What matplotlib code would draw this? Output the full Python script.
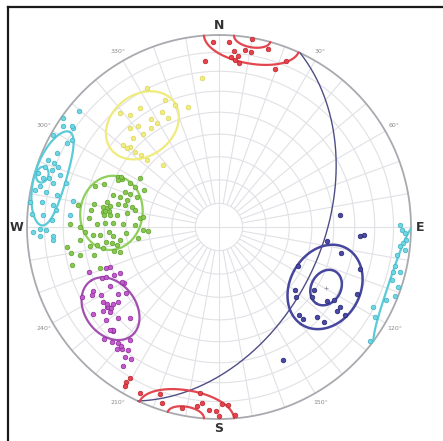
import numpy as np
import matplotlib
matplotlib.use("Agg")
import matplotlib.pyplot as plt
from matplotlib.lines import Line2D

# poles to joints, lower hemisphere (trend, plunge in degrees)
red_trend = [355, 358, 3, 5, 4, 6.5, 5.5, 7, 8.5, 10.5, 10, 15.5, 22, 19.5,
             205.5, 199.5, 198, 186.5, 187, 181, 183, 179, 180, 175, 191.5, 177, 185.5,
             211, 210.5, 210.5]
red_plunge = [14.5, 4, 4, 9, 12, 11.5, 13.5, 15, 7.5, 8, 0.5, 4, 7.5, 13.5,
              4.5, 8.5, 4, 14, 7, 4.5, 5, 8.5, 1.5, 2, 4, 8, 9,
              6.5, 9.5, 4.5]

yellow_trend = [345.5, 340, 333.5, 335, 326.5, 321.5, 328, 329, 321.5, 318, 325.5, 321,
                316, 310.5, 312, 312, 313, 319, 313, 337, 332.5, 353.5, 318, 310.5]
yellow_plunge = [35.5, 33, 33.5, 37.5, 26.5, 26.5, 34, 37, 33, 31.5, 37.5, 37.5,
                 36, 34.5, 37.5, 41, 44, 22.5, 47.5, 29, 19.5, 23, 54, 37]

green_trend = [296.5, 296.5, 290.5, 288.5, 296, 295.5, 301.5, 296, 290.5, 290.5, 287, 287,
               286.5, 290, 282.5, 283, 283, 283, 280.5, 277.5, 277.5, 278.5, 276.5, 276.5,
               278.5, 281.5, 276.5, 274, 271.5, 272, 272, 272, 271.5, 266.5, 279, 271,
               270, 268, 266.5, 266, 267.5, 265, 262.5, 266, 262.5, 261.5, 260, 261.5,
               261.5, 259.5, 257.5, 257, 256, 262.5, 264.5, 260, 262, 255.5, 258.5, 267.5,
               277.5, 251, 279.5, 281, 278, 276, 280, 297, 295]
green_plunge = [41, 43, 36, 32.5, 47, 50, 50, 54, 46.5, 49, 42, 45,
                48.5, 52.5, 40, 45, 48.5, 51.5, 34, 33, 39, 41.5, 42.5, 45.5,
                50, 53, 56, 32.5, 36.5, 40.5, 44, 48.5, 54, 59.5, 26.5, 23.5,
                28.5, 31, 34.5, 38, 42, 44, 47, 50, 40.5, 43, 45, 36,
                32.5, 38.5, 33.5, 43, 46, 21, 28, 23, 55, 22, 27, 57.5,
                57, 35, 40.5, 41.5, 40, 39.5, 38.5, 42, 41.5]

cyan_trend = [305, 304, 303, 299, 299, 300.5, 294.5, 291.5, 291, 289, 289, 290.5, 288,
              286.5, 285.5, 286, 283, 285, 286, 281.5, 281.5, 281, 277.5, 278, 277.5,
              280, 274, 274, 276, 268.5, 269.5, 272.5, 267, 274.5, 309.5, 304.5, 267,
              269, 265.5,
              89.5, 91, 92, 94, 95, 96, 99, 97, 102.5, 104.5, 104, 107, 108.5, 111.5,
              113.5, 117.5, 120, 127]
cyan_plunge = [1, 9, 3.5, 1.5, 10.5, 12, 8, 5, 8.5, 4.5, 9, 11.5, 14,
               2, 5.5, 9, 5, 11.5, 18, 2.5, 9, 15, 1, 7.5, 14,
               24, 2.5, 9, 15.5, 3.5, 7.5, 14, 14.5, 23, 6, 8, 7.5,
               11, 14.5,
               6.5, 5.5, 3.5, 2.5, 4, 6, 7, 2.5, 7, 7, 3.5, 6.5, 2, 1.5,
               5.5, 10.5, 7, 2]

magenta_trend = [251, 246.5, 246, 245.5, 245, 239.5, 240.5, 241.5, 243, 240, 236.5, 234.5,
                 243, 242, 237, 234.5, 233.5, 234, 234, 233.5, 235.5, 230.5, 228, 224.5,
                 226, 225.5, 226, 223, 221, 218.5, 220, 218, 216.5, 216, 213.5, 214.5,
                 250, 250, 234, 233, 235.5, 232, 226, 226.5, 219.5]
magenta_plunge = [29, 34, 36, 39.5, 42.5, 42, 41.5, 35.5, 27, 30, 37, 40.5,
                  21, 26, 29, 29, 30, 26.5, 32.5, 35, 21.5, 25, 30, 34,
                  23.5, 23.5, 17.5, 19.5, 21, 20, 18.5, 26, 21.5, 17.5, 18.5, 13,
                  39.5, 37.5, 29.5, 30.5, 30, 29, 24, 23, 20.5]

blue_trend = [84.5, 93.5, 93, 97.5, 102, 106.5, 116.5, 129.5, 132, 123.5, 127, 124.5,
              122.5, 123.5, 125.5, 116, 125, 138, 137.5, 132.5, 132, 154.5]
blue_plunge = [37, 27.5, 25.5, 42.5, 35.5, 24.5, 52, 47.5, 45, 40.5, 39.5, 32.5,
               30, 25.5, 25.5, 21, 21, 38, 35.5, 31.5, 27, 24]

# mean orientations and cone semi-angles (trend, plunge, across, along-dip)
red_cones = [(10, 0, 14.5, 14.5), (10, 0, 5.5, 5.5)]
yellow_cones = [(323, 33.5, 14.7, 14.7)]
green_cones = [(277.5, 42.5, 14.4, 14.4)]
magenta_cones = [(233, 29.5, 12.5, 12.5)]
blue_cones = [(119.5, 36, 16.7, 16.7), (119.5, 36, 7, 7)]
cyan_cones = [(286.5, 9, 15.8, 8.8), (286.5, 4.5, 2.5, 3.5)]
cyan_east_cone = (108.5, -6, 20, 13.5)

# fault plane (dip direction, dip)
plane_dipdir, plane_dip = 115, 45.5


def project(trend, plunge):
    t = np.radians(np.asarray(trend, float))
    p = np.radians(np.asarray(plunge, float))
    r = np.cos(p) / np.sqrt(1 + np.sin(p))
    return r * np.sin(t), r * np.cos(t)


def cone_segments(trend, plunge, a, b, wrap=True, n=721):
    t, p = np.radians(trend), np.radians(plunge)
    v = np.array([np.cos(p) * np.sin(t), np.cos(p) * np.cos(t), np.sin(p)])
    e1 = np.array([np.cos(t), -np.sin(t), 0.0])
    e2 = np.array([-np.sin(p) * np.sin(t), -np.sin(p) * np.cos(t), np.cos(p)])
    phi = np.linspace(0, 2 * np.pi, n)
    w = (v[:, None] + np.tan(np.radians(a)) * np.cos(phi) * e1[:, None]
         + np.tan(np.radians(b)) * np.sin(phi) * e2[:, None])
    w /= np.linalg.norm(w, axis=0)
    lower = w[2] >= 0
    cuts = np.where(np.diff(lower.astype(int)) != 0)[0] + 1
    segs = []
    for part in np.split(np.arange(n), cuts):
        ww = w[:, part]
        if not lower[part[0]]:
            if not wrap:
                continue
            ww = -ww
        k = np.sqrt(1 + ww[2])
        segs.append((ww[0] / k, ww[1] / k))
    return segs


def draw_cones(ax, cones, color, lw=1.6, wrap=True):
    for tr, pl, a, b in cones:
        for x, y in cone_segments(tr, pl, a, b, wrap=wrap):
            ax.plot(x, y, color=color, lw=lw, zorder=4, solid_capstyle="round")


fig = plt.figure(figsize=(4.43, 4.41), dpi=100)
fig.patch.set_facecolor("white")
ax = fig.add_axes([0, 0, 1, 1])
ax.set_xlim(-219 / 192, 224 / 192)
ax.set_ylim(-214 / 192, 227 / 192)
ax.axis("off")

# polar equal-area net
grid_col = "#e1e1e6"
theta = np.linspace(0, 2 * np.pi, 400)
for pl in range(10, 90, 10):
    r = np.cos(np.radians(pl)) / np.sqrt(1 + np.sin(np.radians(pl)))
    ax.plot(r * np.sin(theta), r * np.cos(theta), color=grid_col, lw=0.8, zorder=1)
r_in = np.cos(np.radians(80)) / np.sqrt(1 + np.sin(np.radians(80)))
for az in range(0, 360, 10):
    s, c = np.sin(np.radians(az)), np.cos(np.radians(az))
    r0 = 0 if az % 90 == 0 else r_in
    ax.plot([r0 * s, s], [r0 * c, c], color=grid_col, lw=0.8, zorder=1)
ax.plot(np.sin(theta), np.cos(theta), color="#a9a9b0", lw=1.3, zorder=2)

for az in [30, 60, 120, 150, 210, 240, 300, 330]:
    rr = 1.055
    ax.text(rr * np.sin(np.radians(az)), rr * np.cos(np.radians(az)), f"{az}°",
            fontsize=4.5, color="#8a8a8a", ha="center", va="center")
for lab, x, y in [("N", 0, 1.05), ("S", 0, -1.05), ("W", -1.055, 0), ("E", 1.05, 0)]:
    ax.text(x, y, lab, fontsize=9, fontweight="bold", color="#333333",
            ha="center", va="center")

# fault plane great circle
dd, dip = np.radians(plane_dipdir), np.radians(plane_dip)
strike_vec = np.array([np.sin(dd - np.pi / 2), np.cos(dd - np.pi / 2), 0.0])
dip_vec = np.array([np.cos(dip) * np.sin(dd), np.cos(dip) * np.cos(dd), np.sin(dip)])
lam = np.linspace(0, np.pi, 300)
gc = np.cos(lam) * strike_vec[:, None] + np.sin(lam) * dip_vec[:, None]
k = np.sqrt(1 + gc[2])
ax.plot(gc[0] / k, gc[1] / k, color="#4e4e86", lw=1.0, zorder=3)

# confidence cones
draw_cones(ax, red_cones, "#e2474f")
draw_cones(ax, yellow_cones, "#efeb7c")
draw_cones(ax, green_cones, "#8fcf5c")
draw_cones(ax, magenta_cones, "#a24fb0")
draw_cones(ax, blue_cones, "#46469f", lw=1.8)
draw_cones(ax, cyan_cones, "#5ccbd9")
draw_cones(ax, [cyan_east_cone], "#5ccbd9", wrap=False)

# poles
sets = [
    (red_trend, red_plunge, "#e8434b", "#b82630"),
    (yellow_trend, yellow_plunge, "#f0ec80", "#dcd55a"),
    (green_trend, green_plunge, "#86c94e", "#5f9f31"),
    (cyan_trend, cyan_plunge, "#6fd6e3", "#3fb1c2"),
    (magenta_trend, magenta_plunge, "#c25ccc", "#8e2a9a"),
    (blue_trend, blue_plunge, "#4a4aa6", "#25256e"),
]
for tr, pl, fc, ec in sets:
    x, y = project(tr, pl)
    ax.scatter(x, y, s=11, color=fc, edgecolors=ec, linewidths=0.5, zorder=5)

bx, by = project(blue_cones[0][0], blue_cones[0][1])
ax.scatter([bx], [by], marker="+", s=12, color="#9a9aa8", linewidths=0.6, zorder=5)

# frame
fig.add_artist(Line2D([8 / 443, 8 / 443], [0, 434 / 441], color="#1a1a1a", lw=1.6))
fig.add_artist(Line2D([8 / 443, 1], [434 / 441, 434 / 441], color="#1a1a1a", lw=1.6))

fig.savefig("out.png", dpi=100, facecolor=fig.get_facecolor())
